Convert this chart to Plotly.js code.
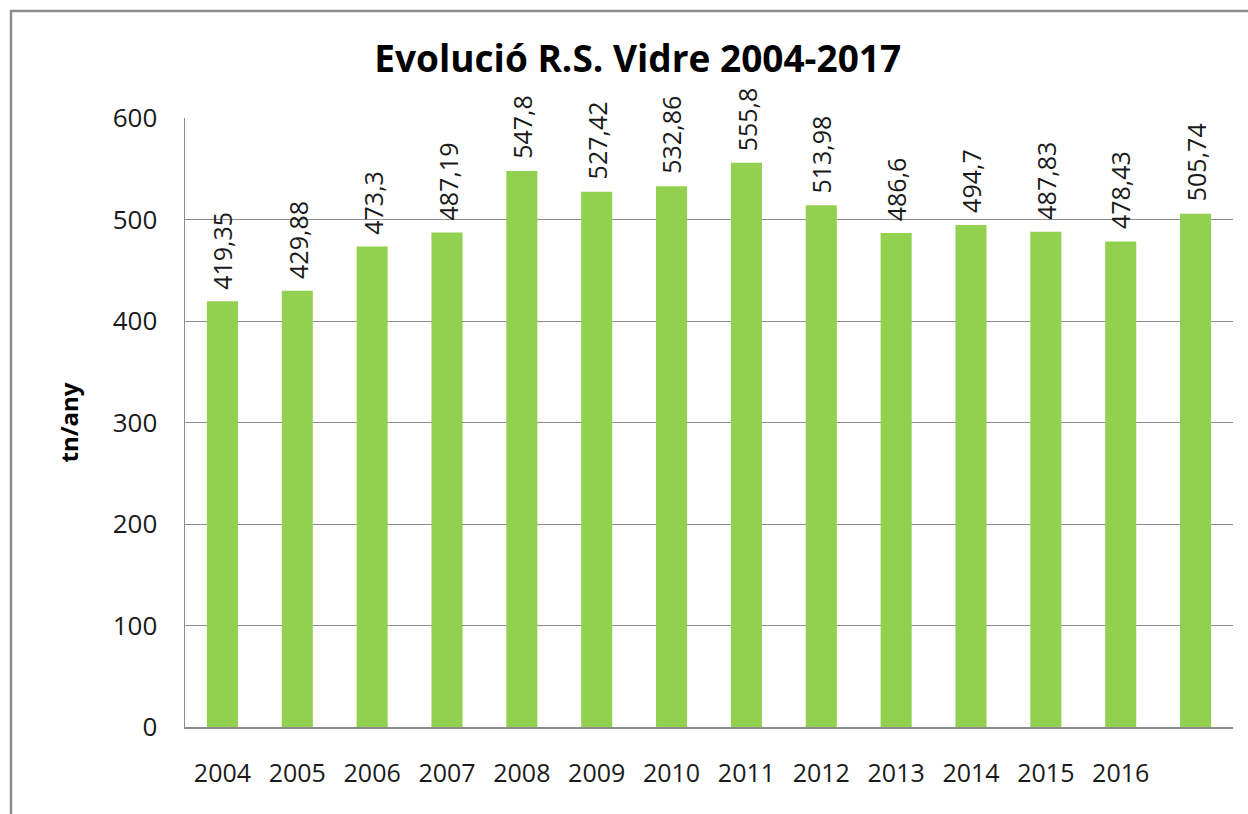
<!DOCTYPE html>
<html>
<head>
<meta charset="utf-8">
<script src="https://cdn.plot.ly/plotly-3.0.1.min.js"></script>
<style>
html,body{margin:0;padding:0;background:#fff;overflow:hidden;}
#chart{width:1248px;height:814px;}
</style>
</head>
<body>
<div id="chart"></div>
<script>
const years = ["2004","2005","2006","2007","2008","2009","2010","2011","2012","2013","2014","2015","2016","2017"];
const values = [419.35,429.88,473.3,487.19,547.8,527.42,532.86,555.8,513.98,486.6,494.7,487.83,478.43,505.74];
const labels = ["419,35","429,88","473,3","487,19","547,8","527,42","532,86","555,8","513,98","486,6","494,7","487,83","478,43","505,74"];
const tickLabels = ["2004","2005","2006","2007","2008","2009","2010","2011","2012","2013","2014","2015","2016",""];

const font = "Open Sans, Noto Sans, sans-serif";
const L = 185, R = 15, T = 118, B = 87, W = 1248, H = 814;
const pw = W - L - R, ph = H - T - B;

const trace = {
  type: 'bar',
  x: years,
  y: values,
  marker: {color: '#92D050'},
  hoverinfo: 'x+y'
};

// category axis: annotation x given as the category index of each year
const annotations = years.map((yr, i) => ({
  x: i, y: values[i], xref: 'x', yref: 'y',
  text: labels[i], showarrow: false,
  textangle: -90, xanchor: 'center', yanchor: 'bottom', yshift: 10,
  font: {family: font, size: 25, color: '#1a1a1a'}
}));

const layout = {
  width: W, height: H,
  margin: {l: L, r: R, t: T, b: B},
  paper_bgcolor: '#fff', plot_bgcolor: '#fff',
  bargap: 0.585,
  showlegend: false,
  annotations: annotations,
  title: {
    text: '<b>Evolució R.S. Vidre 2004-2017</b>',
    font: {family: font, size: 37, color: '#000'},
    x: 0.511, xref: 'container', xanchor: 'center',
    y: 0.927, yref: 'container', yanchor: 'middle'
  },
  xaxis: {
    type: 'category',
    range: [-0.5, years.length - 0.5],
    tickvals: years,
    ticktext: tickLabels,
    tickfont: {family: font, size: 25, color: '#1a1a1a'},
    tickangle: 0,
    showline: true, linecolor: '#8c8c8c', linewidth: 1.5,
    ticks: '', ticklabelstandoff: 23,
    showgrid: false, fixedrange: true
  },
  yaxis: {
    range: [0, 600],
    dtick: 100,
    tickfont: {family: font, size: 26, color: '#1a1a1a'},
    showline: true, linecolor: '#8c8c8c', linewidth: 1.5,
    showgrid: true, gridcolor: '#8c8c8c', gridwidth: 1,
    zeroline: false,
    ticks: '', ticklabelstandoff: 21,
    title: {text: '<b>tn/any</b>', font: {family: font, size: 24, color: '#000'}, standoff: 27},
    fixedrange: true
  },
  shapes: [{
    type: 'rect', xref: 'paper', yref: 'paper',
    x0: (11 - L) / pw, x1: (W + 20 - L) / pw,
    y0: -(H + 20 - T - ph) / ph, y1: (H - B - 11) / ph,
    line: {color: '#8c8c8c', width: 2.5}, fillcolor: 'rgba(0,0,0,0)', layer: 'below'
  }]
};

Plotly.newPlot('chart', [trace], layout, {displayModeBar: false, staticPlot: true});
</script>
</body>
</html>
